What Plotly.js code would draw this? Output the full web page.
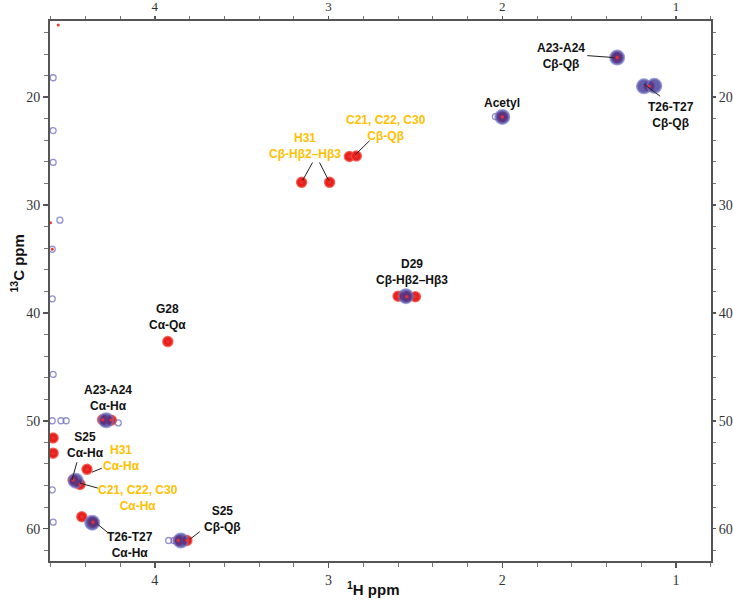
<!DOCTYPE html>
<html><head><meta charset="utf-8">
<script src="https://cdn.plot.ly/plotly-3.0.1.min.js"></script>
<style>html,body{margin:0;padding:0;background:#fff}</style>
</head><body><div id="chart" style="width:733px;height:607px"></div>
<script>
// Spectrum B (red) peak positions: 1H ppm, 13C ppm
const redH  = [1.339, 1.155, 2.000, 2.880, 2.840, 3.155, 2.994, 2.600, 2.550, 2.500, 3.925, 4.300, 4.250, 4.470, 4.430, 4.390, 4.356, 4.420, 3.865, 3.815, 4.585, 4.585];
const redC  = [16.33, 18.99, 21.83, 25.50, 25.45, 27.90, 27.90, 38.45, 38.50, 38.50, 42.66, 49.90, 49.95, 55.50, 55.90, 54.50, 59.40, 58.90, 61.10, 61.10, 51.60, 53.00];
// Spectrum A (blue) peak positions
const blueH = [1.339, 1.185, 1.125, 2.000, 2.555, 4.280, 4.360, 3.850, 4.455];
const blueC = [16.33, 19.00, 18.95, 21.83, 38.45, 49.95, 59.45, 61.10, 55.55];
// Weak spectrum A signals (outline contours)
const weakH = [2.040, 3.920, 3.890, 4.210, 4.585, 4.585, 4.585, 4.546, 4.590, 4.590, 4.585, 4.590, 4.540, 4.510, 4.590, 4.585];
const weakC = [21.80, 61.10, 61.10, 50.20, 18.20, 23.10, 26.05, 31.40, 34.10, 38.70, 45.70, 50.00, 50.00, 50.00, 56.40, 59.40];
// Tiny red specks
const speckH = [4.555, 4.600, 4.590];
const speckC = [13.30, 31.65, 34.10];

const xTicks = [4, 3, 2, 1];
const yTicks = [20, 30, 40, 50, 60];

const xRange = [4.603, 0.799];
const yRange = [63.0, 12.94];

const traces = [
  {x: redH, y: redC, type: 'scatter', mode: 'markers', hoverinfo: 'skip',
   marker: {size: 10, color: 'rgb(232,32,28)', line: {color: 'rgba(240,80,70,0.8)', width: 1.5}}},
  {x: speckH, y: speckC, type: 'scatter', mode: 'markers', hoverinfo: 'skip',
   marker: {size: 3, color: 'rgb(232,60,40)'}},
  {x: weakH, y: weakC, type: 'scatter', mode: 'markers', hoverinfo: 'skip',
   marker: {size: 6, symbol: 'circle-open', color: 'rgba(110,110,190,0.75)', line: {width: 1.3}}},
  {x: blueH, y: blueC, type: 'scatter', mode: 'markers', hoverinfo: 'skip',
   marker: {size: 14, color: 'rgba(60,55,150,0.8)', line: {color: 'rgba(120,120,200,0.7)', width: 2}}},
  {x: redH, y: redC, type: 'scatter', mode: 'markers', hoverinfo: 'skip',
   marker: {size: 3.5, color: 'rgba(235,50,50,0.9)'}},
  {x: [null], y: [null], xaxis: 'x2', yaxis: 'y2', type: 'scatter', mode: 'markers', hoverinfo: 'skip'}
];

const BLK = '#111111', YEL = '#FFC000';
const labFont = (c) => ({family: 'Liberation Sans, Arial, sans-serif', size: 12, color: c});
function lab(x, y, t, c) {
  return {x: x, y: y, xref: 'x', yref: 'y', text: '<b>' + t + '</b>', showarrow: false,
          font: labFont(c), xanchor: 'center', yanchor: 'middle', align: 'center'};
}
const annotations = [
  lab(1.661, 16.15, 'A23-A24<br>Cβ-Qβ', BLK),
  lab(1.029, 21.65, 'T26-T27<br>Cβ-Qβ', BLK),
  lab(2.000, 20.55, 'Acetyl', BLK),
  lab(2.667, 22.84, 'C21, C22, C30<br>Cβ-Qβ', YEL),
  lab(3.138, 24.50, 'H31<br>Cβ-Hβ2–Hβ3', YEL),
  lab(2.517, 36.24, 'D29<br>Cβ-Hβ2–Hβ3', BLK),
  lab(3.925, 40.37, 'G28<br>Cα-Qα', BLK),
  lab(4.270, 47.89, 'A23-A24<br>Cα-Hα', BLK),
  lab(4.397, 52.20, 'S25<br>Cα-Hα', BLK),
  lab(4.190, 53.49, 'H31<br>Cα-Hα', YEL),
  lab(4.098, 57.16, 'C21, C22, C30<br>Cα-Hα', YEL),
  lab(4.144, 61.56, 'T26-T27<br>Cα-Hα', BLK),
  lab(3.609, 59.08, 'S25<br>Cβ-Qβ', BLK),
  {x: 0.49, y: -0.072, xref: 'paper', yref: 'paper', showarrow: false,
   text: '<b><sup>1</sup>H ppm</b>', font: {family: 'Liberation Sans, Arial, sans-serif', size: 15, color: '#111'}},
  {x: -0.068, y: 0.55, xref: 'paper', yref: 'paper', showarrow: false, textangle: -90,
   text: '<b><sup>13</sup>C ppm</b>', font: {family: 'Liberation Sans, Arial, sans-serif', size: 15, color: '#111'}}
];
function seg(x0, y0, x1, y1) {
  return {type: 'line', xref: 'x', yref: 'y', x0: x0, y0: y0, x1: x1, y1: y1,
          line: {color: '#222', width: 1}};
}
const shapes = [
  seg(1.511, 16.15, 1.356, 16.33),
  seg(1.092, 19.91, 1.184, 18.81),
  seg(2.764, 24.04, 2.845, 25.32),
  seg(3.092, 26.06, 3.149, 27.71),
  seg(3.052, 26.06, 3.000, 27.71),
  seg(4.448, 53.85, 4.477, 55.50),
  seg(4.305, 54.40, 4.362, 54.77),
  seg(4.328, 56.24, 4.431, 55.78),
  seg(4.270, 60.37, 4.333, 59.54),
  seg(3.741, 60.28, 3.799, 61.00)
];

const tickFont = {family: 'Liberation Serif, Times New Roman, serif', size: 14, color: '#333'};
const axCommon = {showgrid: false, zeroline: false, showline: true, linecolor: '#555', linewidth: 2,
  ticks: 'outside', ticklen: 5, tickwidth: 1.5, tickcolor: '#555', tickfont: tickFont,
  minor: {ticks: 'outside', ticklen: 4, tickwidth: 1, tickcolor: '#777'}};

const layout = {
  width: 733, height: 607, margin: {l: 50, r: 22, t: 21, b: 46},
  paper_bgcolor: '#fff', plot_bgcolor: '#fff', showlegend: false,
  xaxis: Object.assign({}, axCommon, {range: xRange, autorange: false, tickmode: 'array', tickvals: xTicks,
    minor: Object.assign({}, axCommon.minor, {dtick: 0.2, tick0: 0})}),
  xaxis2: Object.assign({}, axCommon, {range: xRange, autorange: false, overlaying: 'x', side: 'top', anchor: 'y2',
    tickmode: 'array', tickvals: xTicks, ticklen: 3,
    tickfont: {family: 'Liberation Serif, Times New Roman, serif', size: 13, color: '#333'},
    minor: Object.assign({}, axCommon.minor, {dtick: 0.2, tick0: 0, ticklen: 3})}),
  yaxis: Object.assign({}, axCommon, {range: yRange, autorange: false, tickmode: 'array', tickvals: yTicks,
    minor: Object.assign({}, axCommon.minor, {dtick: 2, tick0: 0})}),
  yaxis2: Object.assign({}, axCommon, {range: yRange, autorange: false, overlaying: 'y', side: 'right', anchor: 'x2',
    tickmode: 'array', tickvals: yTicks, ticklen: 3,
    minor: Object.assign({}, axCommon.minor, {dtick: 2, tick0: 0, ticklen: 3})}),
  annotations: annotations,
  shapes: shapes
};
Plotly.newPlot('chart', traces, layout, {displayModeBar: false, staticPlot: true});
</script></body></html>
